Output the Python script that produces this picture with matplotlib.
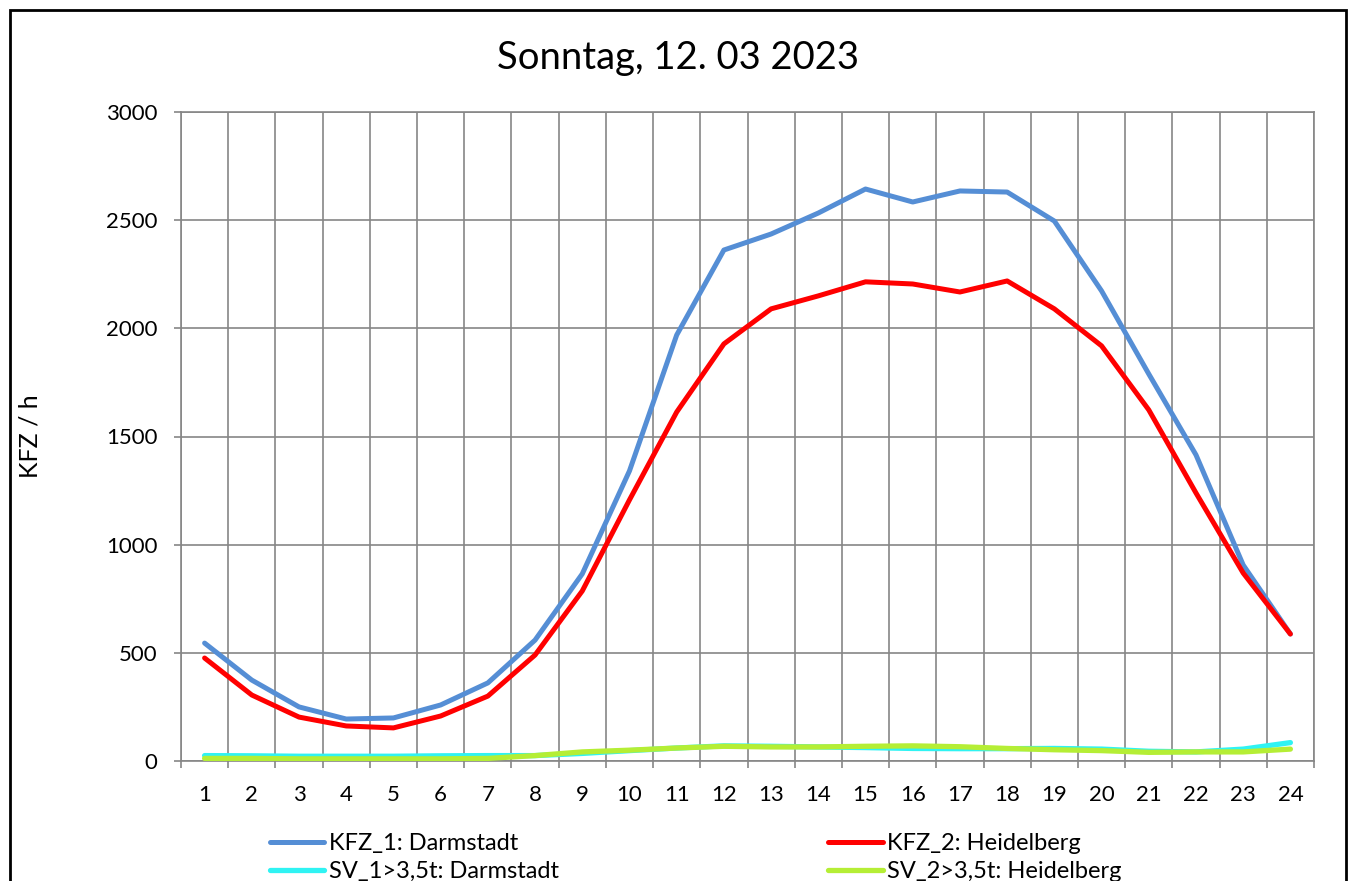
import numpy as np
import matplotlib
matplotlib.use("Agg")
import matplotlib.pyplot as plt
from matplotlib.patches import Rectangle

plt.rcParams['font.family'] = ['Lato', 'DejaVu Sans']

# Data (hourly values)
hours = list(range(1, 25))
kfz_1 = [545, 374, 250, 194, 199, 259, 361, 559, 865, 1341, 1969, 2362,
         2436, 2533, 2644, 2584, 2635, 2630, 2496, 2173, 1789, 1415, 906, 587]
kfz_2 = [476, 305, 203, 162, 153, 208, 300, 490, 786, 1207, 1613, 1928,
         2090, 2150, 2215, 2205, 2168, 2219, 2090, 1919, 1623, 1239, 869, 587]
sv_1 = [25, 24, 22, 22, 22, 24, 25, 25, 35, 48, 60, 70,
        68, 65, 62, 58, 57, 57, 58, 55, 45, 42, 55, 85]
sv_2 = [12, 12, 10, 10, 10, 10, 12, 25, 42, 50, 60, 68,
        65, 65, 68, 70, 66, 58, 52, 48, 40, 42, 42, 55]

labels = ["KFZ_1: Darmstadt", "SV_1>3,5t: Darmstadt",
          "KFZ_2: Heidelberg", "SV_2>3,5t: Heidelberg"]
colors = ['#558ED5', '#2FF3F3', '#FF0000', '#B5EE35']

fig = plt.figure(figsize=(13.48, 8.81), dpi=100)
ax = fig.add_axes([181/1348, 1 - 761/881, 1133/1348, 649/881])

l1, = ax.plot(hours, kfz_1, color=colors[0], lw=3.6, solid_capstyle='round', zorder=3)
l3, = ax.plot(hours, kfz_2, color=colors[2], lw=3.6, solid_capstyle='round', zorder=4)
l2, = ax.plot(hours, sv_1, color=colors[1], lw=3.8, solid_capstyle='round', zorder=5)
l4, = ax.plot(hours, sv_2, color=colors[3], lw=3.8, solid_capstyle='round', zorder=6)

ax.set_xlim(0.5, 24.5)
ax.set_ylim(0, 3000)
ax.set_xticks(hours)
ax.set_xticks(np.arange(0.5, 25, 1), minor=True)
ax.set_yticks(range(0, 3001, 500))
ax.tick_params(axis='x', which='major', length=0, pad=17, labelsize=16)
ax.tick_params(axis='x', which='minor', length=5, width=1.2, color='#868686', direction='out')
ax.tick_params(axis='y', length=5, width=1.2, color='#868686', pad=12, labelsize=16)
ax.grid(True, axis='y', color='#868686', lw=1.2)
ax.grid(True, axis='x', which='minor', color='#868686', lw=1.2)
for s in ax.spines.values():
    s.set_color('#868686')
    s.set_linewidth(1.2)

ax.set_ylabel("KFZ / h", fontsize=18)
ax.yaxis.set_label_coords(-0.1227, 0.5)

fig.text(0.503, 1 - 58/881, "Sonntag, 12. 03 2023", fontsize=27.5, ha='center', va='center')

fig.legend([l1, l2, l3, l4], labels, loc='upper left',
           bbox_to_anchor=(270/1348, 1 - 833/881), ncol=2, frameon=False,
           fontsize=17, handlelength=2.3, handletextpad=0.2,
           columnspacing=11.4, labelspacing=0.3, borderpad=0, borderaxespad=0)

fig.patches.append(Rectangle((10/1348, -0.1), 1336/1348, 1.1 - 10/881,
                             transform=fig.transFigure, fill=False,
                             edgecolor='black', lw=2))

fig.savefig("out.png", dpi=100)
